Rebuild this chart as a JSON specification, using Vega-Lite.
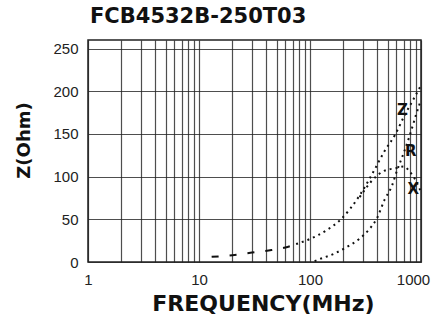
{
  "$schema": "https://vega.github.io/schema/vega-lite/v6.json",
  "width": 333,
  "height": 222,
  "autosize": {"type": "none"},
  "padding": {"left": 88, "top": 40, "right": 13, "bottom": 56},
  "background": "white",
  "title": {"text": "FCB4532B-250T03", "anchor": "start", "frame": "group", "font": "DejaVu Sans", "fontSize": 21, "fontWeight": "bold", "color": "#111", "offset": 13, "dx": 2},
  "config": {
    "view": {"stroke": "#222", "strokeWidth": 1.5},
    "axis": {"gridColor": "#222", "gridWidth": 1.2, "gridOpacity": 0.8, "ticks": false, "domain": false, "labelColor": "#222", "titleColor": "#111"}
  },
  "layer": [
    {
      "data": {"values": [
        {"f": 13, "v": 6, "s": "Zd"}, {"f": 20, "v": 8, "s": "Zd"}, {"f": 30, "v": 11, "s": "Zd"}, {"f": 45, "v": 14, "s": "Zd"}, {"f": 60, "v": 17, "s": "Zd"}, {"f": 75, "v": 21, "s": "Zd"},
        {"f": 75, "v": 21, "s": "Z"}, {"f": 100, "v": 27, "s": "Z"}, {"f": 140, "v": 37, "s": "Z"}, {"f": 190, "v": 50, "s": "Z"}, {"f": 280, "v": 78, "s": "Z"}, {"f": 370, "v": 105, "s": "Z"}, {"f": 470, "v": 130, "s": "Z"}, {"f": 590, "v": 150, "s": "Z"}, {"f": 700, "v": 170, "s": "Z"}, {"f": 850, "v": 190, "s": "Z"}, {"f": 1000, "v": 207, "s": "Z"},
        {"f": 110, "v": 1, "s": "R"}, {"f": 120, "v": 3, "s": "R"}, {"f": 160, "v": 9, "s": "R"}, {"f": 205, "v": 16, "s": "R"}, {"f": 277, "v": 27, "s": "R"}, {"f": 340, "v": 38, "s": "R"}, {"f": 400, "v": 51, "s": "R"}, {"f": 470, "v": 73, "s": "R"}, {"f": 550, "v": 90, "s": "R"}, {"f": 600, "v": 105, "s": "R"}, {"f": 700, "v": 128, "s": "R"}, {"f": 800, "v": 150, "s": "R"}, {"f": 900, "v": 172, "s": "R"}, {"f": 1000, "v": 190, "s": "R"},
        {"f": 280, "v": 76, "s": "X"}, {"f": 400, "v": 101, "s": "X"}, {"f": 470, "v": 107, "s": "X"}, {"f": 600, "v": 110, "s": "X"}, {"f": 700, "v": 112, "s": "X"}, {"f": 800, "v": 105, "s": "X"}, {"f": 900, "v": 95, "s": "X"}, {"f": 1000, "v": 82, "s": "X"}
      ]},
      "mark": {"type": "line", "color": "#111", "strokeWidth": 2, "interpolate": "monotone", "clip": true},
      "encoding": {
        "x": {"field": "f", "type": "quantitative",
          "scale": {"type": "log", "domain": [1, 1000]},
          "axis": {"values": [1,2,3,4,5,6,7,8,9,10,20,30,40,50,60,70,80,90,100,200,300,400,500,600,700,800,900,1000],
            "format": "d",
            "labelExpr": "indexof([1,10,100,1000], datum.value) >= 0 ? datum.label : ''",
            "labelFont": "Liberation Sans", "labelFontSize": 15, "labelPadding": 10, "labelOverlap": false, "labelFlush": false,
            "labelOffset": {"condition": {"test": "datum.value === 1000", "value": -8}, "value": 0},
            "title": "FREQUENCY(MHz)", "titleFont": "DejaVu Sans", "titleFontSize": 22, "titleFontWeight": "bold",
            "titleX": 175, "titleY": 41, "titleBaseline": "middle"}},
        "y": {"field": "v", "type": "quantitative",
          "scale": {"domain": [0, 250]},
          "axis": {"values": [0,25,50,75,100,125,150,175,200,225,250],
            "labelExpr": "datum.value % 50 === 0 ? datum.label : ''",
            "labelFont": "Liberation Sans", "labelFontSize": 15, "labelPadding": 10, "labelOverlap": false,
            "title": "Z(Ohm)", "titleFont": "DejaVu Sans", "titleFontSize": 18, "titleFontWeight": "bold",
            "titleX": -64, "titleY": 100, "titleBaseline": "middle", "titleAlign": "center"}},
        "strokeDash": {"field": "s", "type": "nominal",
          "scale": {"domain": ["Zd", "Z", "R", "X"], "range": [[7, 11], [2, 4], [2, 4], [2, 4]]},
          "legend": null}
      }
    },
    {
      "data": {"values": [
        {"f": 680, "v": 178, "t": "Z"},
        {"f": 810, "v": 130, "t": "R"},
        {"f": 850, "v": 86, "t": "X"}
      ]},
      "mark": {"type": "text", "font": "DejaVu Sans", "fontWeight": "bold", "fontSize": 15, "color": "#111"},
      "encoding": {
        "x": {"field": "f", "type": "quantitative"},
        "y": {"field": "v", "type": "quantitative"},
        "text": {"field": "t"}
      }
    }
  ]
}
